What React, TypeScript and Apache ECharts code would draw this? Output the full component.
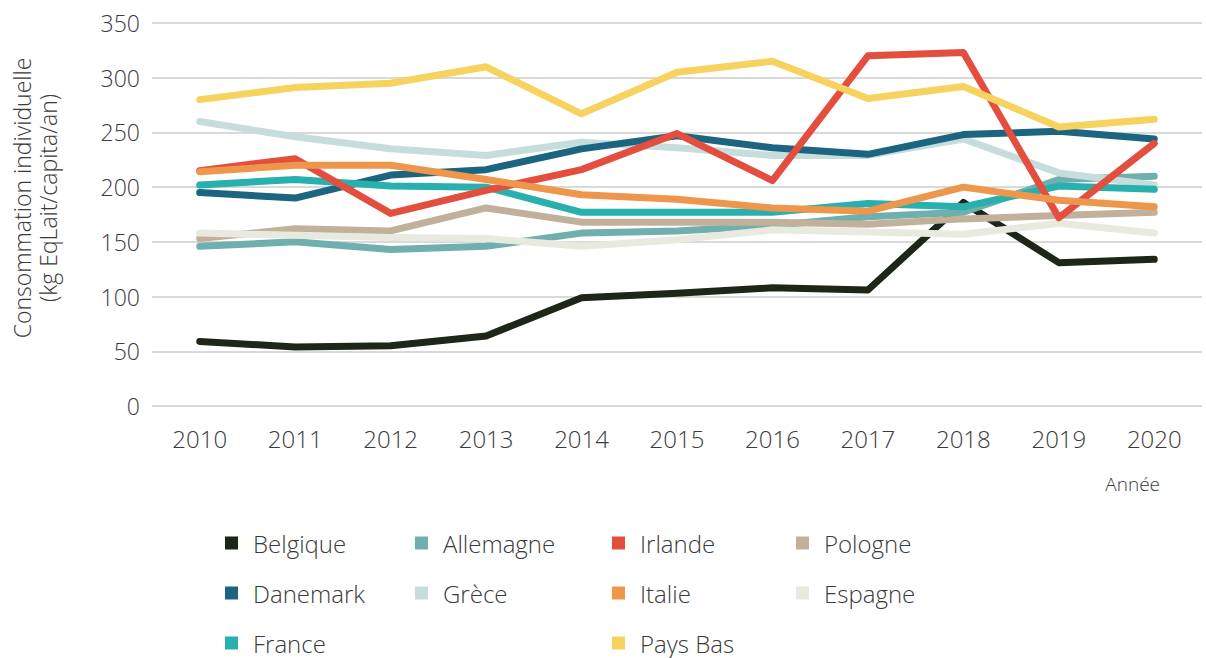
import React, { useEffect, useRef } from "react";
import * as echarts from "echarts";

const years = ["2010", "2011", "2012", "2013", "2014", "2015", "2016", "2017", "2018", "2019", "2020"];

const belgique = [59, 54, 55, 64, 99, 103, 108, 106, 186, 131, 134];
const allemagne = [146, 150, 143, 146, 158, 160, 165, 173, 177, 207, 210];
const irlande = [215, 226, 176, 197, 216, 249, 206, 320, 323, 172, 240];
const pologne = [153, 162, 160, 181, 168, 168, 168, 166, 171, 174, 177];
const danemark = [195, 190, 211, 216, 235, 247, 236, 230, 248, 251, 244];
const grece = [260, 246, 235, 229, 241, 236, 229, 229, 244, 213, 202];
const italie = [214, 220, 220, 207, 193, 189, 181, 178, 200, 188, 182];
const espagne = [158, 156, 154, 153, 146, 152, 161, 159, 157, 167, 158];
const france = [202, 207, 201, 200, 177, 177, 177, 185, 182, 201, 198];
const paysBas = [280, 291, 295, 310, 267, 305, 315, 281, 292, 255, 262];

const yTicks = { min: 0, max: 350, interval: 50 };

const seriesDefs = [
  { name: "Belgique", data: belgique, color: "#1e2519" },
  { name: "Allemagne", data: allemagne, color: "#6fb0ae" },
  { name: "Pologne", data: pologne, color: "#c2b19a" },
  { name: "Espagne", data: espagne, color: "#e8e9df" },
  { name: "Grèce", data: grece, color: "#c5dedd" },
  { name: "Danemark", data: danemark, color: "#1b6580" },
  { name: "France", data: france, color: "#27b0ad" },
  { name: "Irlande", data: irlande, color: "#e34e3f" },
  { name: "Italie", data: italie, color: "#ee964b" },
  { name: "Pays Bas", data: paysBas, color: "#f5d35e" },
];

const legendCols = [
  { names: ["Belgique", "Danemark", "France"], left: 225 },
  { names: ["Allemagne", "Grèce"], left: 415 },
  { names: ["Irlande", "Italie", "Pays Bas"], left: 612 },
  { names: ["Pologne", "Espagne"], left: 796 },
];

const FONT = "'Open Sans', Lato, sans-serif";
const TEXT = "#3a3a3a";

export default function App() {
  const ref = useRef<HTMLDivElement>(null);
  useEffect(() => {
    if (!ref.current) return;
    const chart = echarts.init(ref.current, undefined, { renderer: "svg" });
    chart.setOption({
      animation: false,
      backgroundColor: "#ffffff",
      textStyle: { fontFamily: FONT, fontWeight: 300 },
      grid: { left: 152, right: 4, top: 23, bottom: 252, containLabel: false },
      xAxis: {
        type: "category",
        data: years,
        boundaryGap: true,
        axisLine: { show: false },
        axisTick: { show: false },
        axisLabel: { margin: 20, fontSize: 24, color: TEXT, fontFamily: FONT, fontWeight: 300 },
        splitLine: { show: false },
      },
      yAxis: {
        type: "value",
        min: yTicks.min,
        max: yTicks.max,
        interval: yTicks.interval,
        axisLine: { show: false },
        axisTick: { show: false },
        axisLabel: { margin: 12, fontSize: 23, color: TEXT, fontFamily: FONT, fontWeight: 300 },
        splitLine: { lineStyle: { color: "#d9d9d9", width: 2 } },
      },
      legend: legendCols.map((c) => ({
        data: c.names,
        orient: "vertical",
        left: c.left,
        top: 531,
        height: 126,
        padding: 0,
        itemWidth: 13,
        itemHeight: 13,
        itemGap: 26,
        icon: "rect",
        textStyle: {
          fontSize: 24,
          color: TEXT,
          fontFamily: FONT,
          fontWeight: 300,
          lineHeight: 24,
          padding: [0, 0, 0, 10],
        },
        selectedMode: false,
      })),
      graphic: [
        {
          type: "text",
          x: 35,
          y: 198,
          rotation: Math.PI / 2,
          style: {
            text: "Consommation individuelle\n(kg EqLait/capita/an)",
            fontSize: 23,
            lineHeight: 26,
            fill: TEXT,
            fontFamily: FONT,
            fontWeight: 300,
            align: "center",
            verticalAlign: "middle",
          },
        },
        {
          type: "text",
          right: 46,
          top: 474,
          style: { text: "Année", fontSize: 19, fill: TEXT, fontFamily: FONT, fontWeight: 300 },
        },
      ],
      series: seriesDefs.map((s) => ({
        name: s.name,
        type: "line",
        data: s.data,
        symbol: "none",
        color: s.color,
        lineStyle: { width: 7, color: s.color, cap: "round", join: "round" },
        itemStyle: { color: s.color },
      })),
    });
    return () => chart.dispose();
  }, []);
  return <div ref={ref} style={{ width: 1206, height: 658, position: "absolute", left: 0, top: 0 }} />;
}
